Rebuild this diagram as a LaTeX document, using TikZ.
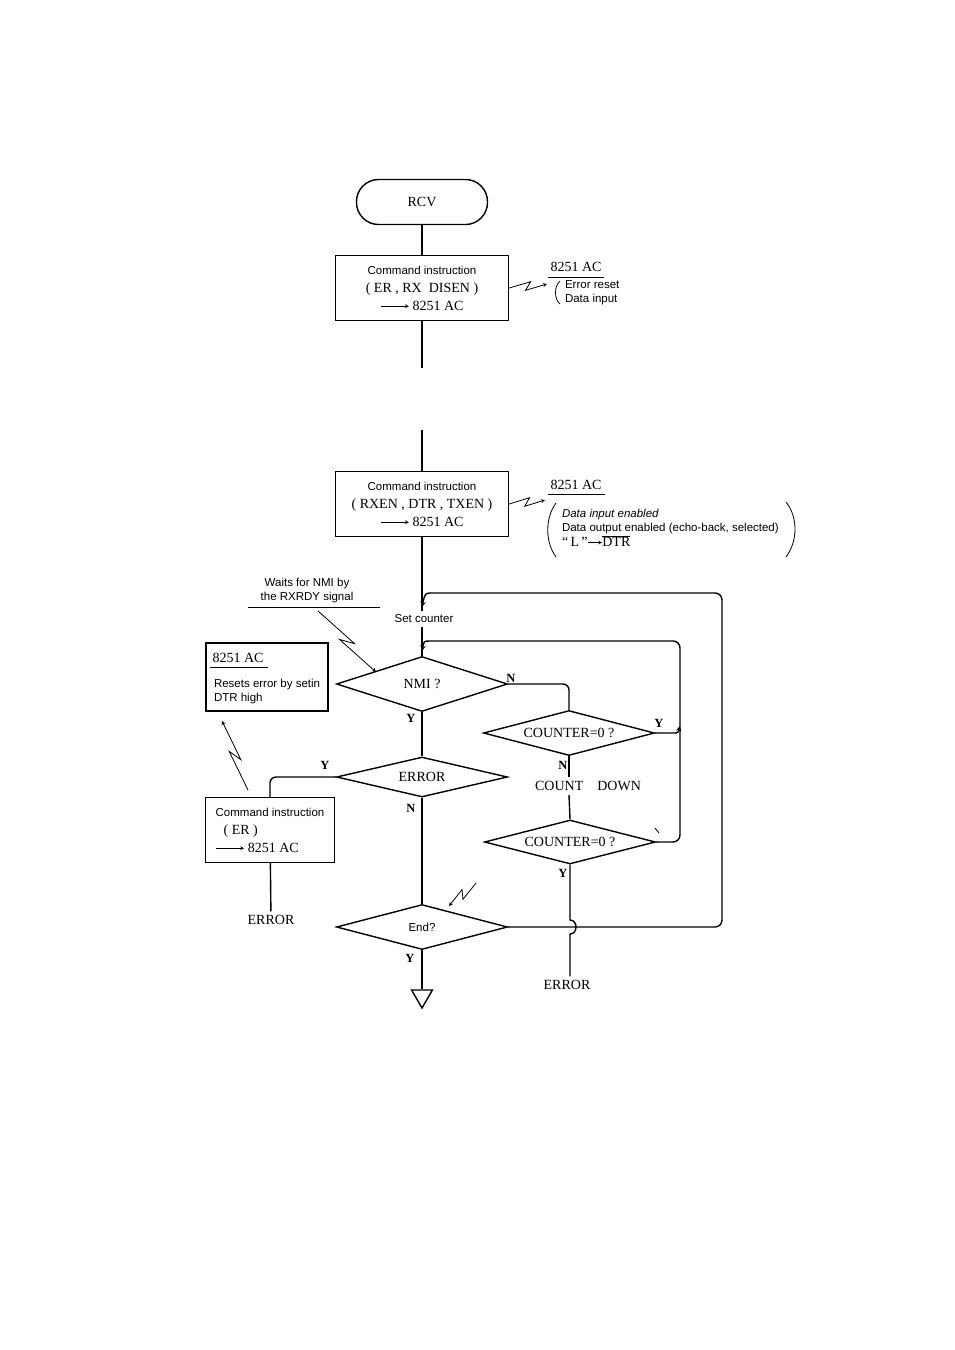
\documentclass[tikz,border=0pt]{standalone}
\usepackage{fontspec}
\setmainfont{Liberation Serif}
\setsansfont{Liberation Sans}
\usetikzlibrary{shapes.geometric,calc}
\newcommand{\smallsans}{\sffamily\fontsize{11.5}{14}\selectfont}
\newcommand{\sendto}[1][28pt]{\tikz[baseline=-0.6ex]\draw[->,>=stealth,line width=0.7pt] (0pt,0pt) -- (#1,0pt);\pgfsetlinewidth{1.4pt}}
\tikzset{
  ser/.style={font=\fontsize{14}{18}\selectfont},
  sans/.style={font=\smallsans},
  yn/.style={font=\bfseries\fontsize{12.5}{14}\selectfont},
  term/.style={draw, rounded corners=22pt, minimum width=131pt, minimum height=45pt, ser},
  cmd/.style={draw, minimum width=173pt, minimum height=65pt, inner sep=2pt, ser},
  dec/.style={draw, diamond, aspect=3.5, inner sep=0pt, minimum width=171pt, ser},
  tri/.style={draw, regular polygon, regular polygon sides=3, shape border rotate=180, minimum size=24pt, inner sep=0pt},
  thin/.style={line width=0.8pt},
  zz/.style={->, line width=0.8pt, to path={-- ($(\tikztostart)!0.58!(\tikztotarget)!4pt!90:(\tikztotarget)$) -- ($(\tikztostart)!0.42!(\tikztotarget)!4pt!-90:(\tikztotarget)$) -- (\tikztotarget) \tikztonodes}},
}
\begin{document}
\begin{tikzpicture}[x=1pt, y=-1pt, line width=1.4pt, >=stealth]
  \useasboundingbox (0,0) rectangle (954,1350);

  \node[term] (rcv) at (422,202) {RCV};
  \node[cmd, align=center] (cmdA) at (422,288) {{\smallsans Command instruction}\\( ER , RX\ \ DISEN )\\\sendto\ 8251 AC};
  \coordinate (cutA) at (422,368);
  \coordinate (cutB) at (422,430);
  \node[cmd, align=center] (cmdB) at (422,504) {{\smallsans Command instruction}\\( RXEN , DTR , TXEN )\\\sendto\ 8251 AC};
  \node[sans] (setc) at (424,619) {Set counter};
  \node[dec, minimum height=55pt] (nmi) at (422,684) {NMI ?};
  \node[dec, minimum height=45pt] (zeroA) at (569,733) {COUNTER=0 ?};
  \node[ser] (down) at (588,786) {COUNT\quad DOWN};
  \node[dec, minimum height=44pt] (zeroB) at (570,842) {COUNTER=0 ?};
  \node[dec, minimum height=40pt] (err) at (422,777) {ERROR};
  \node[draw, minimum width=129pt, minimum height=65pt, align=left, ser] (cmdC) at (270,830) {{\smallsans Command instruction}\\\hspace*{8pt}( ER )\\\sendto\ 8251 AC};
  \node[dec, minimum height=45pt] (endq) at (422,927) {\smallsans End?};
  \node[ser] (errA) at (271,920) {ERROR};
  \node[ser] (errB) at (567,985) {ERROR};
  \node[tri] (off) at (422,996) {};

  \node[draw, minimum width=122pt, minimum height=68pt] (acbox) at (267,677) {};
  \node[ser] (acT) at (238,658) {8251 AC};
  \node[sans, anchor=west, align=left] (acN) at (210,692) {Resets error by setin\\DTR high};

  \node[ser] (acA) at (576,267) {8251 AC};
  \node[sans, anchor=west, align=left] (noteA) at (561,293) {Error reset\\Data input};
  \node[ser] (acB) at (576,485) {8251 AC};
  \node[sans, anchor=north west, align=left] (noteB) at (558,505) {{\itshape Data input enabled}\\Data output enabled (echo-back, selected)\\[1pt]{\rmfamily\fontsize{14}{16}\selectfont “\,L\,”\sendto[14pt]$\overline{\mathrm{DTR}}$}};
  \node[sans, align=center] (wait) at (307,591) {Waits for NMI by\\the RXRDY signal};

  \node[yn] (nA) at (511,678) {N};
  \node[yn] (yA) at (411,718) {Y};
  \node[yn] (yB) at (659,723) {Y};
  \node[yn] (nB) at (563,765) {N};
  \node[yn] (yC) at (325,765) {Y};
  \node[yn] (nC) at (411,808) {N};
  \node[yn] (yD) at (563,873) {Y};
  \node[yn] (yE) at (410,958) {Y};

  \draw (rcv) -- (cmdA);
  \draw (cmdA) -- (cutA);
  \draw (cutB) -- (cmdB);
  \draw (cmdB) -- (cmdB.south |- setc.north);
  \draw (cmdB.south |- setc.south) -- (nmi);
  \draw[rounded corners=6pt] (nmi.east) -| (zeroA.north);
  \draw (nmi) -- (err);
  \draw (zeroA.south) -- (zeroA.south |- down.north);
  \draw (zeroA.south |- down.south) -- (zeroB.north);
  \draw[rounded corners=6pt] (err.west) -| (cmdC.north);
  \draw (err) -- (endq);
  \draw (cmdC) -- (errA);
  \draw (endq) -- (off);
  \draw (zeroB.south) -- (570,920) .. controls (578,920) and (578,934) .. (570,934) -- (zeroB.south |- errB.north);

  \coordinate (inA) at (422,607);
  \draw[->, rounded corners=7pt] (endq.east) -- (722,927) -- (722,593) -- (440,593) .. controls (425,593) .. (inA);
  \coordinate (inB) at (422,651);
  \draw[->, rounded corners=7pt] (zeroB.east) -- (680,842) -- (680,641) -- (437,641) .. controls (424,641) .. (inB);
  \coordinate (jn) at (680,726);
  \draw[->] (zeroA.east) -- (672,733) .. controls (678,733) .. (jn);
  \draw[thin] (655,828) -- (659,833);

  \coordinate (zA) at (547,284);
  \draw[zz] (cmdA.east) to (zA);
  \coordinate (zB) at (545,500);
  \draw[zz] (cmdB.east) to (zB);
  \coordinate (zC1) at (318,611);
  \coordinate (zC2) at (376,672);
  \draw[zz] (zC1) to (zC2);
  \coordinate (zD1) at (248,790);
  \coordinate (zD2) at (222,721);
  \draw[zz] (zD1) to (zD2);
  \coordinate (zE1) at (476,883);
  \coordinate (zE2) at (449,906);
  \draw[zz] (zE1) to (zE2);

  \draw[thin] (548,277) -- (604,277);
  \draw[thin] (548,494) -- (605,494);
  \draw[thin] (248,607) -- (380,607);
  \draw[thin] (210,667) -- (268,667);
  \draw[thin] (560,281) .. controls (554,286) and (554,299) .. (560,304);
  \draw[thin] (556,503) .. controls (545,518) and (545,542) .. (556,557);
  \draw[thin] (786,502) .. controls (798,517) and (798,541) .. (786,557);
\end{tikzpicture}
\end{document}
